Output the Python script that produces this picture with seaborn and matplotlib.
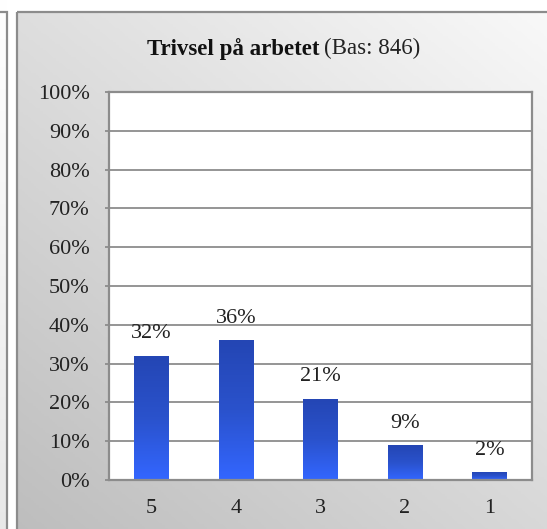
import numpy as np
import pandas as pd
import matplotlib
matplotlib.use("Agg")
import matplotlib.pyplot as plt
import seaborn as sns
from matplotlib.colors import LinearSegmentedColormap
from matplotlib.patches import Rectangle

# Data
kategorier = ["5", "4", "3", "2", "1"]
andelar = [32, 36, 21, 9, 2]
y_ticks = [0, 10, 20, 30, 40, 50, 60, 70, 80, 90, 100]

df = pd.DataFrame({"Svar": kategorier, "Andel": andelar})

sns.set_style("white")
plt.rcParams["font.family"] = ["Liberation Serif", "DejaVu Serif"]

fig = plt.figure(figsize=(5.47, 5.29), dpi=100)

# bakgrund: vänster remsa + grå panel med diagonal gradient
bg = fig.add_axes([0, 0, 1, 1], zorder=-10)
bg.set_xlim(0, 547)
bg.set_ylim(529, 0)
bg.axis("off")
gx, gy = np.meshgrid(np.linspace(0, 1, 200), np.linspace(0, 1, 200))
grad = (1 - gx) * 0.45 + gy * 0.55
cmap_bg = LinearSegmentedColormap.from_list("bg", ["#f9f9f9", "#bdbdbd"])
bg.imshow(grad, cmap=cmap_bg, extent=[17, 560, 540, 12], aspect="auto")
left_grad = np.linspace(0, 1, 100).reshape(-1, 1)
bg.imshow(left_grad, cmap=LinearSegmentedColormap.from_list("l", ["#ffffff", "#e8e8e8"]),
          extent=[-10, 7, 540, -10], aspect="auto")
bg.add_patch(Rectangle((17, 12), 560, 540, fill=False, edgecolor="#8c8c8c", lw=1.6))
bg.add_patch(Rectangle((-10, 12), 16.5, 540, fill=False, edgecolor="#8c8c8c", lw=1.6))

# huvuddiagram
ax = fig.add_axes([0.1993, 0.0926, 0.773, 0.7335])
sns.barplot(data=df, x="Svar", y="Andel", ax=ax, width=0.41, color="#2b55d8")
ax.set_facecolor("white")
ax.set_yticks(y_ticks)
ax.set_yticklabels([f"{v}%" for v in y_ticks], fontsize=16, color="#222222")
ax.set_xlabel("")
ax.set_ylabel("")
ax.tick_params(axis="x", labelsize=16, length=0, pad=14, labelcolor="#222222")
ax.tick_params(axis="y", length=3, width=1.3, color="#8c8c8c", pad=11, left=True)
ax.set_xticks([0.5, 1.5, 2.5, 3.5], minor=True)
ax.tick_params(axis="x", which="minor", direction="in", length=5, width=1.3, color="#8c8c8c")
ax.grid(axis="y", color="#8c8c8c", lw=1.3)
ax.set_axisbelow(True)
for s in ax.spines.values():
    s.set_color("#8c8c8c")
    s.set_linewidth(1.6)
    s.set_visible(True)

# gradient i staplarna
cmap_bar = LinearSegmentedColormap.from_list("bar", ["#2446b4", "#2a52cc", "#3366ff"])
for p in ax.patches:
    x0, w, h = p.get_x(), p.get_width(), p.get_height()
    im = ax.imshow(np.linspace(0, 1, 100).reshape(-1, 1), cmap=cmap_bar,
                   extent=[x0, x0 + w, 0, h], aspect="auto", zorder=2)
    im.set_clip_path(p)
    p.set_facecolor("none")
    p.set_edgecolor("none")
    ax.annotate(f"{h:.0f}%", (x0 + w / 2, h), xytext=(0, 9), textcoords="offset points",
                ha="center", va="bottom", fontsize=16, color="#222222")
ax.set_xlim(-0.5, 4.5)
ax.set_ylim(0, 100)

# titel
fig.text(0.584, 0.908, "Trivsel på arbetet", ha="right", va="center",
         fontsize=16.5, fontweight="bold", color="#111111")
fig.text(0.592, 0.908, "(Bas: 846)", ha="left", va="center", fontsize=16.5, color="#222222")

fig.savefig("out.png", dpi=100)
